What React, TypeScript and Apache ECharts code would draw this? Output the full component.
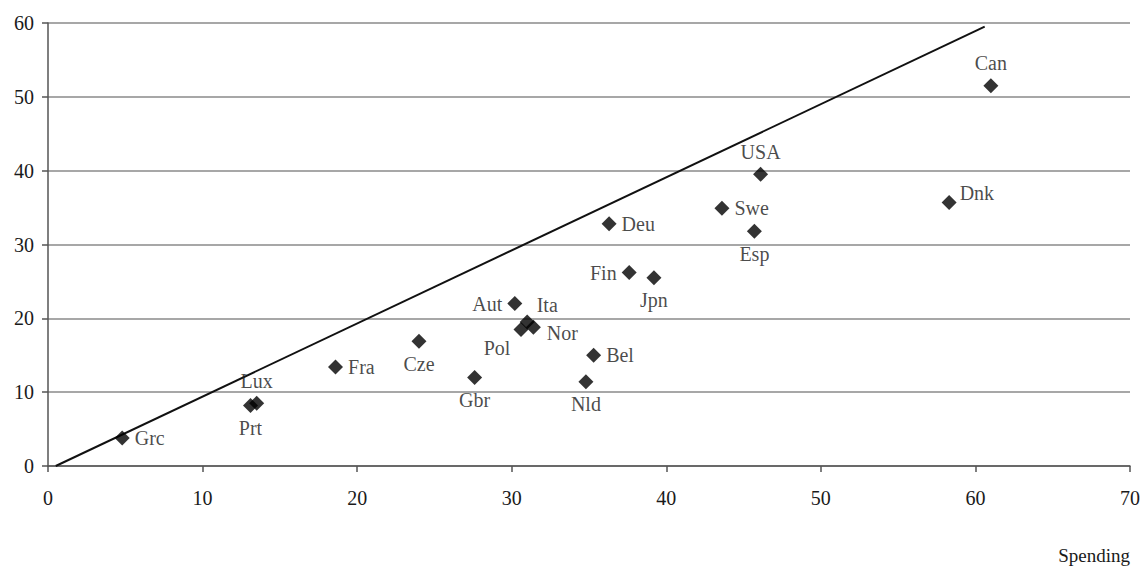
import React, { useEffect, useRef } from "react";
import * as echarts from "echarts";

const countries = ["Grc", "Prt", "Lux", "Fra", "Cze", "Gbr", "Aut", "Pol", "Ita", "Nor", "Nld", "Bel", "Deu", "Fin", "Jpn", "Swe", "Esp", "USA", "Dnk", "Can"];
const spending = [4.8, 13.1, 13.5, 18.6, 24.0, 27.6, 30.2, 30.6, 31.0, 31.4, 34.8, 35.3, 36.3, 37.6, 39.2, 43.6, 45.7, 46.1, 58.3, 61.0];
const yValues = [3.8, 8.2, 8.5, 13.4, 16.9, 12.0, 22.0, 18.5, 19.5, 18.8, 11.4, 15.0, 32.8, 26.2, 25.5, 34.9, 31.8, 39.5, 35.7, 51.5];
const labelPos = ["right", "bottom", "top", "right", "bottom", "bottom", "left", "bottomLeft", "ita", "nor", "bottom", "right", "right", "left", "bottom", "right", "bottom", "top", "topRight", "top"];
const lineX = [0.5, 60.6];
const lineY = [0, 59.5];
const xTicks = [0, 10, 20, 30, 40, 50, 60, 70];
const yTicks = [0, 10, 20, 30, 40, 50, 60];

const FONT = "Liberation Serif";

function labelFor(pos: string) {
  const base: any = { show: true, color: "#1a1a1a", fontFamily: FONT, fontSize: 20, distance: 5 };
  if (pos === "bottomLeft") return { ...base, position: "bottom", offset: [-24, -4] };
  if (pos === "topRight") return { ...base, position: "right", offset: [-2, -9] };
  if (pos === "ita") return { ...base, position: "right", offset: [-3, -17] };
  if (pos === "nor") return { ...base, position: "right", offset: [1, 6] };
  return { ...base, position: pos };
}

export default function App() {
  const ref = useRef<HTMLDivElement>(null);
  useEffect(() => {
    if (!ref.current) return;
    const chart = echarts.init(ref.current, null, { renderer: "svg" });
    const data = countries.map((c, i) => ({
      name: c,
      value: [spending[i], yValues[i]],
      label: { ...labelFor(labelPos[i]), formatter: c },
    }));
    chart.setOption({
      animation: false,
      backgroundColor: "#fff",
      grid: { left: 48, right: 18, top: 23, bottom: 103 },
      xAxis: {
        type: "value",
        min: xTicks[0],
        max: xTicks[xTicks.length - 1],
        interval: 10,
        axisLine: { show: true, lineStyle: { color: "#555", width: 1.5 } },
        axisTick: { show: true, length: 6, lineStyle: { color: "#555", width: 1.5 } },
        axisLabel: { color: "#1a1a1a", fontFamily: FONT, fontSize: 20, margin: 22 },
        splitLine: { show: false },
      },
      yAxis: {
        type: "value",
        min: yTicks[0],
        max: yTicks[yTicks.length - 1],
        interval: 10,
        axisLine: { show: true, lineStyle: { color: "#555", width: 1.5 } },
        axisTick: { show: true, length: 6, lineStyle: { color: "#555", width: 1.5 } },
        axisLabel: { color: "#1a1a1a", fontFamily: FONT, fontSize: 20, margin: 14 },
        splitLine: { show: true, lineStyle: { color: "#8a8a8a", width: 1.5 } },
      },
      graphic: [
        {
          type: "text",
          right: 18,
          top: 546,
          style: { text: "Spending", fill: "#1a1a1a", font: `19px "${FONT}"` },
        },
      ],
      series: [
        {
          type: "line",
          data: lineX.map((x, i) => [x, lineY[i]]),
          symbol: "none",
          lineStyle: { color: "#111", width: 2 },
          z: 1,
        },
        {
          type: "scatter",
          symbol: "diamond",
          symbolSize: 15,
          itemStyle: { color: "#000" },
          data,
          z: 3,
        },
      ],
    });
    return () => chart.dispose();
  }, []);
  return <div ref={ref} style={{ width: 1148, height: 569, position: "absolute", left: 0, top: 0 }} />;
}
